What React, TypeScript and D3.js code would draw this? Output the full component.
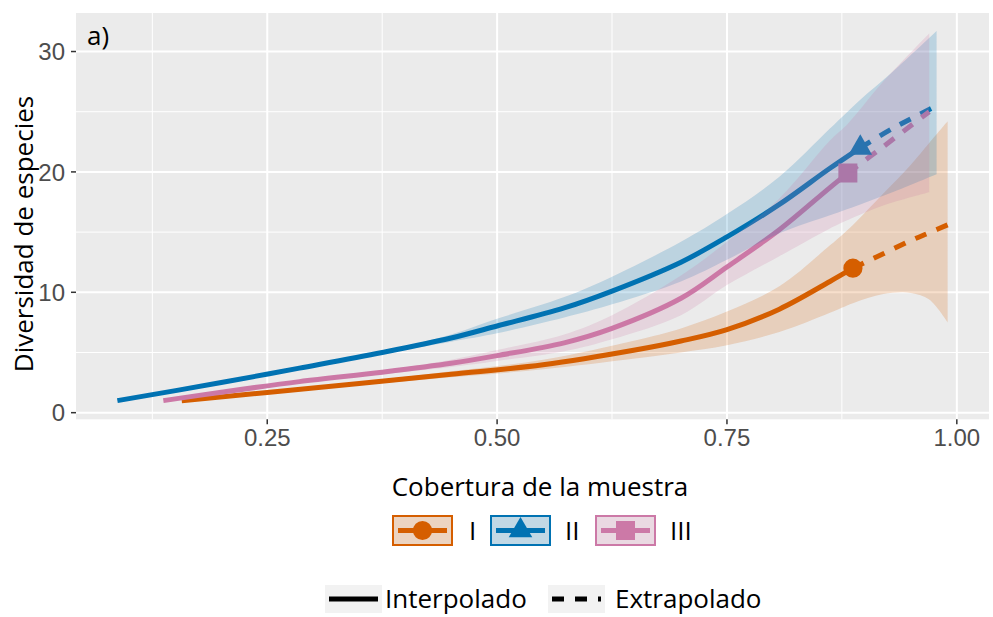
import React from "react";
import * as d3 from "d3";

// groups and colours
const groups = ["I", "II", "III"];
const colors = ["#D55E00", "#0072B2", "#CC79A7"];
const shapes = [d3.symbolCircle, d3.symbolTriangle, d3.symbolSquare];
const shapeSizes = [290, 240, 361];

// I (orange) -- coverage, diversity, lower and upper bound
const covI = [0.157, 0.25, 0.35, 0.45, 0.55, 0.65, 0.7, 0.75, 0.807, 0.862, 0.887, 0.92, 0.95, 0.97, 0.99];
const divI = [1.0, 1.68, 2.42, 3.19, 3.98, 5.2, 5.95, 6.9, 8.6, 10.9, 12.0, 13.2, 14.3, 14.95, 15.6];
const loI = [1.0, 1.62, 2.3, 2.95, 3.6, 4.5, 5.0, 5.6, 6.7, 8.3, 9.1, 9.85, 9.95, 9.4, 7.5];
const hiI = [1.0, 1.74, 2.55, 3.45, 4.4, 6.0, 7.0, 8.4, 10.5, 13.9, 15.6, 18.2, 20.6, 22.4, 24.2];
const obsI = 10;

// II (blue)
const covII = [0.087, 0.2, 0.285, 0.375, 0.45, 0.5, 0.573, 0.625, 0.7, 0.75, 0.807, 0.862, 0.895, 0.93, 0.978];
const divII = [1.0, 2.5, 3.7, 5.0, 6.2, 7.2, 8.7, 10.1, 12.5, 14.6, 17.3, 20.3, 22.0, 23.6, 25.5];
const loII = [1.0, 2.45, 3.6, 4.9, 5.9, 6.6, 7.9, 9.0, 10.9, 12.7, 14.9, 16.4, 17.3, 18.3, 19.8];
const hiII = [1.0, 2.55, 3.8, 5.1, 6.5, 7.8, 9.6, 11.3, 14.2, 16.5, 19.6, 23.6, 26.0, 28.3, 31.7];
const obsII = 12;

// III (pink)
const covIII = [0.137, 0.2, 0.285, 0.375, 0.45, 0.5, 0.573, 0.625, 0.7, 0.75, 0.807, 0.862, 0.8815, 0.92, 0.97];
const divIII = [1.0, 1.7, 2.58, 3.36, 4.1, 4.74, 5.8, 7.0, 9.5, 12.1, 15.2, 18.7, 19.9, 22.1, 25.0];
const loIII = [1.0, 1.65, 2.5, 3.2, 3.8, 4.3, 5.1, 6.1, 8.1, 10.6, 13.0, 15.3, 16.0, 17.2, 18.3];
const hiIII = [1.0, 1.75, 2.7, 3.5, 4.4, 5.2, 6.5, 8.1, 11.4, 14.2, 17.8, 22.6, 24.0, 27.5, 31.5];
const obsIII = 12;

const xTicks = [0.25, 0.5, 0.75, 1.0];
const xTickLabels = ["0.25", "0.50", "0.75", "1.00"];
const xMinor = [0.125, 0.375, 0.625, 0.875];
const yTicks = [0, 10, 20, 30];
const yTickLabels = ["0", "10", "20", "30"];
const yMinor = [5, 15, 25];
const methods = ["Interpolado", "Extrapolado"];

const series = [
  { cov: covI, div: divI, lo: loI, hi: hiI, obs: obsI },
  { cov: covII, div: divII, lo: loII, hi: hiII, obs: obsII },
  { cov: covIII, div: divIII, lo: loIII, hi: hiIII, obs: obsIII },
];

const W = 993;
const H = 617;
const P = { left: 76, right: 989, top: 13, bottom: 419.3 };
const titleFont = "'Open Sans', sans-serif";
const tickFont = "'Liberation Sans', Arial, sans-serif";

export default function App() {
  const x = d3.scaleLinear().domain([0.042, 1.035]).range([P.left, P.right]);
  const y = d3.scaleLinear().domain([-0.55, 33.2]).range([P.bottom, P.top]);
  const curve = d3.curveCatmullRom.alpha(0.5);

  const line = d3
    .line<[number, number]>()
    .x((d) => x(d[0]))
    .y((d) => y(d[1]))
    .curve(curve);

  const area = d3
    .area<[number, number, number]>()
    .x((d) => x(d[0]))
    .y0((d) => y(d[1]))
    .y1((d) => y(d[2]))
    .curve(curve);

  const pts = series.map((s) => s.cov.map((c, i) => [c, s.div[i]] as [number, number]));

  return (
    <svg width={W} height={H} style={{ position: "absolute", left: 0, top: 0, background: "#fff" }}>
      <defs>
        <clipPath id="panel">
          <rect x={P.left} y={P.top} width={P.right - P.left} height={P.bottom - P.top} />
        </clipPath>
      </defs>
      <rect x={P.left} y={P.top} width={P.right - P.left} height={P.bottom - P.top} fill="#EBEBEB" />
      {/* grid */}
      {xMinor.map((v) => (
        <line key={"xm" + v} x1={x(v)} x2={x(v)} y1={P.top} y2={P.bottom} stroke="#fff" strokeWidth={1} />
      ))}
      {yMinor.map((v) => (
        <line key={"ym" + v} x1={P.left} x2={P.right} y1={y(v)} y2={y(v)} stroke="#fff" strokeWidth={1} />
      ))}
      {xTicks.map((v) => (
        <line key={"xg" + v} x1={x(v)} x2={x(v)} y1={P.top} y2={P.bottom} stroke="#fff" strokeWidth={2} />
      ))}
      {yTicks.map((v) => (
        <line key={"yg" + v} x1={P.left} x2={P.right} y1={y(v)} y2={y(v)} stroke="#fff" strokeWidth={2} />
      ))}

      <g clipPath="url(#panel)">
        {/* lines */}
        {series.map((s, g) => (
          <g key={"l" + g}>
            <path d={line(pts[g].slice(0, s.obs + 1)) || ""} fill="none" stroke={colors[g]} strokeWidth={5} />
            <path
              d={line(pts[g].slice(s.obs)) || ""}
              fill="none"
              stroke={colors[g]}
              strokeWidth={5}
              strokeDasharray="12 11"
            />
          </g>
        ))}
        {/* observed points */}
        {series.map((s, g) => (
          <path
            key={"p" + g}
            d={d3.symbol(shapes[g], shapeSizes[g])() || ""}
            transform={`translate(${x(s.cov[s.obs])},${y(s.div[s.obs])})`}
            fill={colors[g]}
          />
        ))}
        {/* confidence ribbons */}
        {series.map((s, g) => (
          <path
            key={"r" + g}
            d={area(s.cov.map((c, i) => [c, s.lo[i], s.hi[i]] as [number, number, number])) || ""}
            fill={colors[g]}
            fillOpacity={0.2}
          />
        ))}
      </g>

      <text x={87} y={45} fontFamily={titleFont} fontSize={26} fill="#000">
        a)
      </text>

      {/* axes */}
      {xTicks.map((v, i) => (
        <g key={"xt" + v}>
          <line x1={x(v)} x2={x(v)} y1={P.bottom} y2={P.bottom + 5} stroke="#333" strokeWidth={1.5} />
          <text x={x(v)} y={446} textAnchor="middle" fontFamily={tickFont} fontSize={24} fill="#4D4D4D">
            {xTickLabels[i]}
          </text>
        </g>
      ))}
      {yTicks.map((v, i) => (
        <g key={"yt" + v}>
          <line x1={P.left - 5} x2={P.left} y1={y(v)} y2={y(v)} stroke="#333" strokeWidth={1.5} />
          <text x={65} y={y(v) + 8.6} textAnchor="end" fontFamily={tickFont} fontSize={24} fill="#4D4D4D">
            {yTickLabels[i]}
          </text>
        </g>
      ))}

      <text x={540} y={496} textAnchor="middle" fontFamily={titleFont} fontSize={26} fill="#000">
        Cobertura de la muestra
      </text>
      <text
        transform="translate(33,234) rotate(-90)"
        textAnchor="middle"
        fontFamily={titleFont}
        fontSize={26}
        fill="#000"
      >
        Diversidad de especies
      </text>

      {/* legend: groups */}
      {groups.map((name, g) => {
        const kx = [393, 491, 596][g];
        const lx = [469, 565, 670][g];
        const ky = 516;
        return (
          <g key={"lg" + g}>
            <rect x={kx} y={ky} width={59} height={29} fill="#F2F2F2" />
            <rect x={kx} y={ky} width={59} height={29} fill={colors[g]} fillOpacity={0.2} stroke={colors[g]} strokeWidth={2} />
            <line x1={kx + 5} x2={kx + 54} y1={ky + 14.5} y2={ky + 14.5} stroke={colors[g]} strokeWidth={5} />
            <path
              d={d3.symbol(shapes[g], shapeSizes[g])() || ""}
              transform={`translate(${kx + 29.5},${ky + 14.5})`}
              fill={colors[g]}
            />
            <text x={lx} y={540} fontFamily={titleFont} fontSize={26} fill="#000">
              {name}
            </text>
          </g>
        );
      })}

      {/* legend: method */}
      {methods.map((m, i) => {
        const kx = [325, 548][i];
        const tx = [385, 615][i];
        const ky = 585;
        return (
          <g key={"lm" + i}>
            <rect x={kx} y={ky} width={57} height={28} fill="#F2F2F2" />
            <line
              x1={kx + 4}
              x2={kx + 53}
              y1={ky + 14}
              y2={ky + 14}
              stroke="#000"
              strokeWidth={5}
              strokeDasharray={i === 1 ? "12 11" : undefined}
            />
            <text x={tx} y={608} fontFamily={titleFont} fontSize={26} fill="#000">
              {m}
            </text>
          </g>
        );
      })}
    </svg>
  );
}
